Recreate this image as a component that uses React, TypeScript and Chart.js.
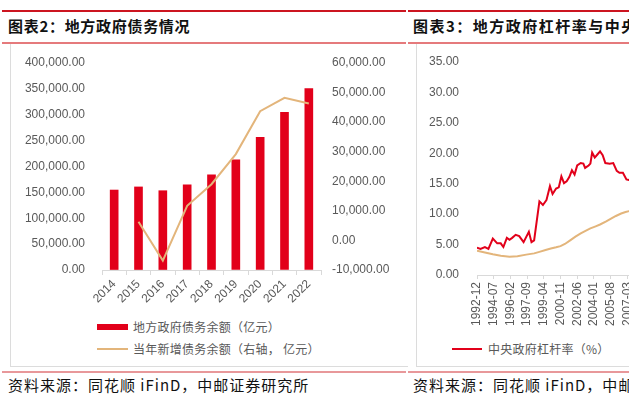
import React, { useEffect, useRef } from "react";
import { Chart, registerables } from "chart.js";

Chart.register(...registerables);

// ---- Chart 2: local government debt ----
const years = ["2014", "2015", "2016", "2017", "2018", "2019", "2020", "2021", "2022"];
const debtBalance = [154500, 160500, 153200, 164700, 183900, 213100, 256600, 304700, 350600];
const newDebt = [null, 6300, -6800, 11700, 19000, 29200, 43700, 48200, 46300];
const leftAxis = { min: 0, max: 400000, step: 50000 };
const rightAxis = { min: -10000, max: 60000, step: 10000 };

// ---- Chart 3: leverage ratios (x = months since 1992-12) ----
const startYear = 1992;
const startMonth = 12;
const monthTickStep = 19;
const centralMonths = [0, 4, 9, 13, 18, 23, 27, 30, 34, 37, 40, 44, 48, 53, 59, 62, 65, 71, 75, 79, 83, 86, 90, 93, 96, 99, 102, 105, 108, 111, 114, 118, 121, 123, 127, 129, 131, 134, 137, 140, 143, 146, 151, 155, 159, 162, 166, 170, 173, 178];
const centralLeverage = [4.5, 4.3, 4.6, 4.3, 6.0, 5.2, 5.2, 4.6, 6.1, 5.8, 6.1, 6.6, 6.4, 5.4, 7.1, 5.4, 5.7, 12.1, 11.5, 12.3, 14.6, 13.3, 14.2, 14.4, 16.2, 15.1, 15.4, 16.1, 17.2, 16.5, 18.0, 18.4, 18.3, 17.6, 18.0, 18.3, 20.1, 19.3, 19.8, 20.3, 19.7, 18.4, 18.3, 18.4, 17.1, 16.8, 16.8, 15.7, 15.6, 15.4];
const localMonths = [0, 9, 18, 27, 37, 46, 56, 65, 71, 78, 84, 90, 95, 100, 106, 112, 118, 124, 129, 135, 140, 147, 153, 158, 164, 169, 173, 178];
const localLeverage = [4.0, 3.7, 3.4, 3.15, 3.0, 3.1, 3.35, 3.55, 3.8, 4.1, 4.35, 4.55, 4.75, 5.1, 5.7, 6.3, 6.85, 7.3, 7.65, 8.0, 8.3, 8.8, 9.3, 9.7, 10.1, 10.35, 10.5, 10.7];
const levAxis = { min: 0, max: 35, step: 5 };

const RED = "#e2001a";
const TAN = "#e3b57b";
const TICK = "#595959";
const AXIS_FONT = { family: '"Liberation Sans", Arial, sans-serif', size: 12 };
const CJK = '"Noto Sans CJK SC", "Noto Sans", sans-serif';

const fmt2 = (v: number) =>
  Number(v).toLocaleString("en-US", { minimumFractionDigits: 2, maximumFractionDigits: 2 });

const monthLabel = (m: number) => {
  const t = startYear * 12 + (startMonth - 1) + Math.round(m);
  const y = Math.floor(t / 12);
  const mo = (t % 12) + 1;
  return `${y}-${mo < 10 ? "0" + mo : mo}`;
};

// invisible tick marks used as a fixed gap between labels and plot
const gapGrid = (len: number) => ({
  display: true,
  drawOnChartArea: false,
  drawTicks: true,
  tickLength: len,
  color: "rgba(0,0,0,0)",
});

function DebtChart() {
  const ref = useRef<HTMLCanvasElement>(null);
  useEffect(() => {
    const W = 397, H = 265;
    const chart = new Chart(ref.current!, {
      type: "bar",
      data: {
        labels: years,
        datasets: [
          {
            type: "line",
            label: "当年新增债务余额（右轴， 亿元）",
            data: newDebt as any,
            yAxisID: "y1",
            borderColor: TAN,
            backgroundColor: TAN,
            borderWidth: 2,
            pointRadius: 0,
            tension: 0,
            order: 0,
          },
          {
            type: "bar",
            label: "地方政府债务余额（亿元）",
            data: debtBalance,
            yAxisID: "y",
            backgroundColor: RED,
            barThickness: 8,
            order: 1,
          },
        ],
      },
      options: {
        responsive: false,
        animation: false,
        devicePixelRatio: 1,
        layout: { padding: { top: 18, left: 0, right: 0, bottom: 0 } },
        plugins: { legend: { display: false }, tooltip: { enabled: false } },
        scales: {
          x: {
            grid: { display: true, drawOnChartArea: false, drawTicks: true, tickLength: 5, color: "#d9d9d9", offset: true },
            border: { display: true, color: "#d9d9d9" },
            ticks: { minRotation: 45, maxRotation: 45, autoSkip: false, padding: 2, color: TICK, font: AXIS_FONT },
            afterFit: (s: any) => { s.height = H - 225; },
          },
          y: {
            position: "left",
            min: leftAxis.min,
            max: leftAxis.max,
            grid: gapGrid(17),
            border: { display: false },
            ticks: { stepSize: leftAxis.step, padding: 0, color: TICK, font: AXIS_FONT, callback: (v: any) => fmt2(v) },
            afterFit: (s: any) => { s.width = 92; },
          },
          y1: {
            position: "right",
            min: rightAxis.min,
            max: rightAxis.max,
            grid: gapGrid(11),
            border: { display: false },
            ticks: { stepSize: rightAxis.step, padding: 0, color: TICK, font: AXIS_FONT, callback: (v: any) => fmt2(v) },
            afterFit: (s: any) => { s.width = W - 311; },
          },
        },
      },
    } as any);
    return () => chart.destroy();
  }, []);
  return <canvas ref={ref} width={397} height={265} style={{ position: "absolute", left: 10, top: 45, width: 397, height: 265 }} />;
}

function LeverageChart() {
  const ref = useRef<HTMLCanvasElement>(null);
  useEffect(() => {
    const W = 260, H = 295;
    const chart = new Chart(ref.current!, {
      type: "line",
      data: {
        datasets: [
          {
            label: "中央政府杠杆率（%）",
            data: centralMonths.map((m, i) => ({ x: m, y: centralLeverage[i] })),
            borderColor: RED,
            borderWidth: 2,
            pointRadius: 0,
            tension: 0,
          },
          {
            label: "地方政府杠杆率（%）",
            data: localMonths.map((m, i) => ({ x: m, y: localLeverage[i] })),
            borderColor: TAN,
            borderWidth: 2,
            pointRadius: 0,
            tension: 0,
          },
        ],
      },
      options: {
        responsive: false,
        animation: false,
        devicePixelRatio: 1,
        layout: { padding: { top: 17, left: 0, right: 32, bottom: 0 } },
        plugins: { legend: { display: false }, tooltip: { enabled: false } },
        scales: {
          x: {
            type: "linear",
            min: 0,
            max: 190,
            grid: { display: true, drawOnChartArea: false, drawTicks: true, tickLength: 4, color: "#d9d9d9" },
            border: { display: true, color: "#d9d9d9" },
            ticks: { stepSize: monthTickStep, minRotation: 90, maxRotation: 90, autoSkip: false, padding: 3, color: TICK, font: AXIS_FONT, callback: (v: any) => monthLabel(v) },
            afterFit: (s: any) => { s.height = H - 230; },
          },
          y: {
            min: levAxis.min,
            max: levAxis.max,
            grid: gapGrid(18),
            border: { display: false },
            ticks: { stepSize: levAxis.step, padding: 0, color: TICK, font: AXIS_FONT, callback: (v: any) => Number(v).toFixed(2) },
            afterFit: (s: any) => { s.width = 61; },
          },
        },
      },
    } as any);
    return () => chart.destroy();
  }, []);
  return <canvas ref={ref} width={260} height={295} style={{ position: "absolute", left: 416, top: 45, width: 260, height: 295 }} />;
}

const abs = (o: any) => ({ position: "absolute" as const, ...o });

export default function App() {
  const titleStyle = { fontFamily: CJK, fontSize: 15, fontWeight: 700, lineHeight: "20px", letterSpacing: 0.7, color: "#111", whiteSpace: "nowrap" as const };
  const footStyle = { fontFamily: CJK, fontSize: 15, lineHeight: "18px", letterSpacing: 1, color: "#111", whiteSpace: "nowrap" as const };
  const legText = { fontFamily: CJK, fontSize: 12, color: TICK, letterSpacing: 0.25, whiteSpace: "nowrap" as const, lineHeight: "16px" };
  return (
    <div style={{ position: "fixed", left: 0, top: 0, width: 629, height: 397, overflow: "hidden", background: "#fff" }}>
      {/* top rules */}
      <div style={abs({ left: 2, top: 10, width: 404, height: 2, background: "#cc1520" })} />
      <div style={abs({ left: 408, top: 10, width: 221, height: 2, background: "#cc1520" })} />
      <div style={abs({ left: 8, top: 16, ...titleStyle })}>图表2：地方政府债务情况</div>
      <div style={abs({ left: 413, top: 16, ...titleStyle, letterSpacing: 1.5 })}>图表3：地方政府杠杆率与中央政府杠杆率</div>
      <div style={abs({ left: 2, top: 42, width: 404, height: 2, background: "#e57a7c" })} />
      <div style={abs({ left: 408, top: 42, width: 221, height: 2, background: "#e57a7c" })} />

      {/* panels */}
      <div style={abs({ left: 10, top: 44, width: 397, height: 322, borderLeft: "1px solid #dcdcdc", borderBottom: "1px solid #dcdcdc" })} />
      <div style={abs({ left: 416, top: 44, width: 240, height: 322, borderLeft: "1px solid #dcdcdc", borderBottom: "1px solid #dcdcdc" })} />

      <DebtChart />
      <LeverageChart />

      {/* left legend */}
      <div style={abs({ left: 97, top: 319, display: "flex", alignItems: "center", height: 16 })}>
        <div style={{ width: 31, height: 6, background: RED, marginRight: 5 }} />
        <span style={legText}>地方政府债务余额（亿元）</span>
      </div>
      <div style={abs({ left: 97, top: 341, display: "flex", alignItems: "center", height: 16 })}>
        <div style={{ width: 31, height: 2, background: TAN, marginRight: 5 }} />
        <span style={legText}>当年新增债务余额（右轴， 亿元）</span>
      </div>

      {/* right legend */}
      <div style={abs({ left: 452, top: 341, display: "flex", alignItems: "center", height: 16 })}>
        <div style={{ width: 30, height: 2, background: RED, marginRight: 6 }} />
        <span style={legText}>中央政府杠杆率（%）</span>
        <div style={{ width: 30, height: 2, background: TAN, marginLeft: 22, marginRight: 6 }} />
        <span style={legText}>地方政府杠杆率（%）</span>
      </div>

      {/* footer rules and source */}
      <div style={abs({ left: 2, top: 371, width: 404, height: 2, background: "#e8989a" })} />
      <div style={abs({ left: 408, top: 371, width: 221, height: 2, background: "#e8989a" })} />
      <div style={abs({ left: 8, top: 376, ...footStyle })}>资料来源：同花顺 iFinD，中邮证券研究所</div>
      <div style={abs({ left: 413, top: 376, ...footStyle })}>资料来源：同花顺 iFinD，中邮证券研究所</div>
    </div>
  );
}
